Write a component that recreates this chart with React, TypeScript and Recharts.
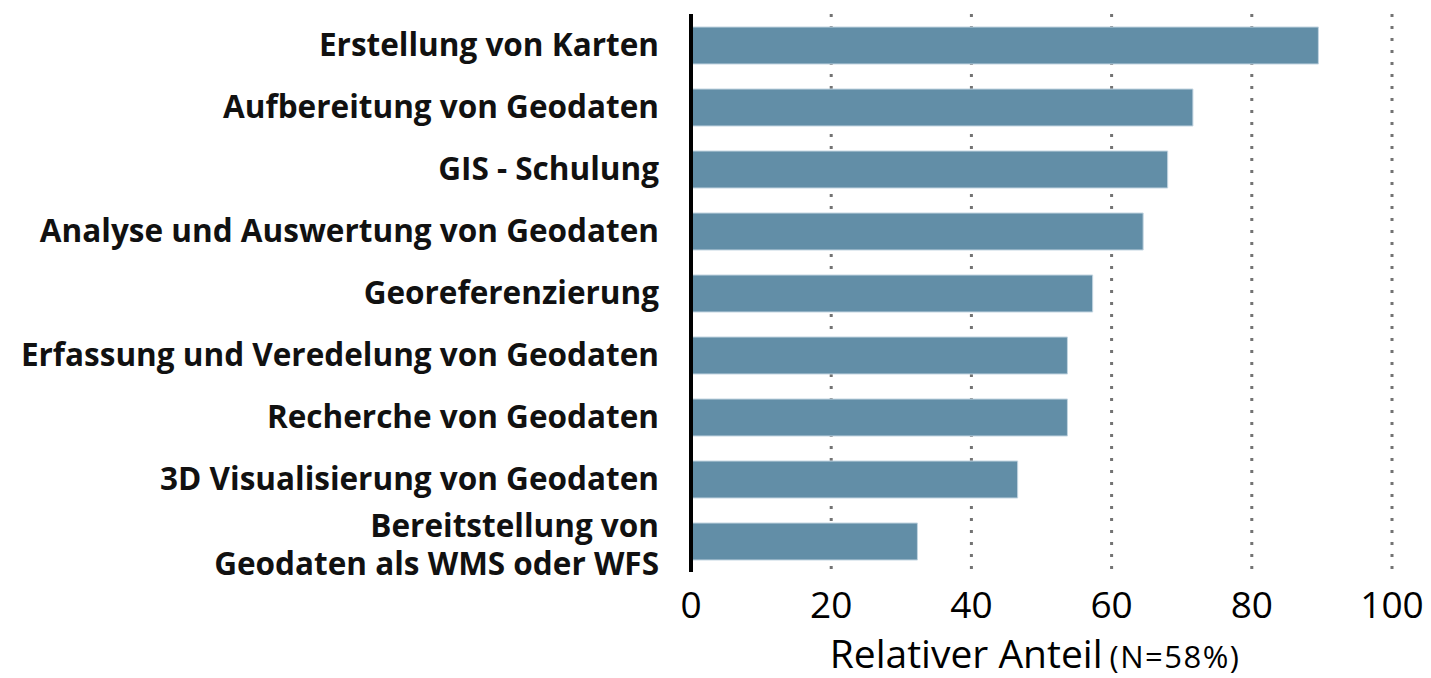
import { Bar, BarChart, CartesianGrid, XAxis, YAxis } from "recharts";

const categories = [
  "Erstellung von Karten",
  "Aufbereitung von Geodaten",
  "GIS - Schulung",
  "Analyse und Auswertung von Geodaten",
  "Georeferenzierung",
  "Erfassung und Veredelung von Geodaten",
  "Recherche von Geodaten",
  "3D Visualisierung von Geodaten",
  "Bereitstellung von\nGeodaten als WMS oder WFS",
];

const shares = [89.5, 71.6, 68.0, 64.5, 57.3, 53.7, 53.7, 46.6, 32.3];

const xTicks = [0, 20, 40, 60, 80, 100];

const FONT = "'Open Sans', Lato, sans-serif";

const data = categories.map((name, i) => ({ name, share: shares[i] }));

// Category label on the left, right aligned, may break over two lines
const CategoryTick = ({ x, y, payload }: any) => {
  const lines = String(payload.value).split("\n");
  const lineHeight = 38;
  const start = -((lines.length - 1) * lineHeight) / 2 + 11;
  return (
    <text x={x - 32} y={y} textAnchor="end" fontFamily={FONT} fontWeight={700} fontSize={31.5} fill="#111">
      {lines.map((line, i) => (
        <tspan key={i} x={x - 32} dy={i === 0 ? start + (lines.length > 1 ? 4 : 0) : lineHeight}>
          {line}
        </tspan>
      ))}
    </text>
  );
};

const ValueTick = ({ x, y, payload }: any) => (
  <text x={x} y={y + 46} textAnchor="middle" fontFamily={FONT} fontSize={37} fill="#000">
    {payload.value}
  </text>
);

// Axis title: main part plus a smaller note for the sample size
const AxisTitle = ({ viewBox }: any) => {
  const { x, y, width } = viewBox;
  const cx = x + width / 2;
  return (
    <g fontFamily={FONT} fill="#000">
      <text x={cx + 61} y={y + 96} textAnchor="end" fontSize={39}>
        Relativer Anteil
      </text>
      <text x={cx + 68} y={y + 96} textAnchor="start" fontSize={31} letterSpacing={1.5}>
        (N=58%)
      </text>
    </g>
  );
};

export default function App() {
  return (
    <BarChart
      width={1423}
      height={670}
      data={data}
      layout="vertical"
      margin={{ top: 6, right: 39, left: 0, bottom: 0 }}
    >
      <CartesianGrid
        horizontal={false}
        stroke="#737373"
        strokeWidth={3}
        strokeDasharray="3 9"
      />
      <XAxis
        type="number"
        domain={[0, 100]}
        ticks={xTicks}
        height={106}
        axisLine={false}
        tickLine={false}
        tickSize={0}
        tickMargin={0}
        tick={<ValueTick />}
        label={<AxisTitle />}
      />
      <YAxis
        type="category"
        dataKey="name"
        width={683}
        axisLine={{ stroke: "#000", strokeWidth: 4 }}
        tickLine={false}
        tickSize={0}
        tickMargin={0}
        interval={0}
        tick={<CategoryTick />}
      />
      <Bar
        dataKey="share"
        fill="#628ea7"
        stroke="#c3d5e1"
        strokeWidth={1}
        barSize={37}
        isAnimationActive={false}
      />
    </BarChart>
  );
}
